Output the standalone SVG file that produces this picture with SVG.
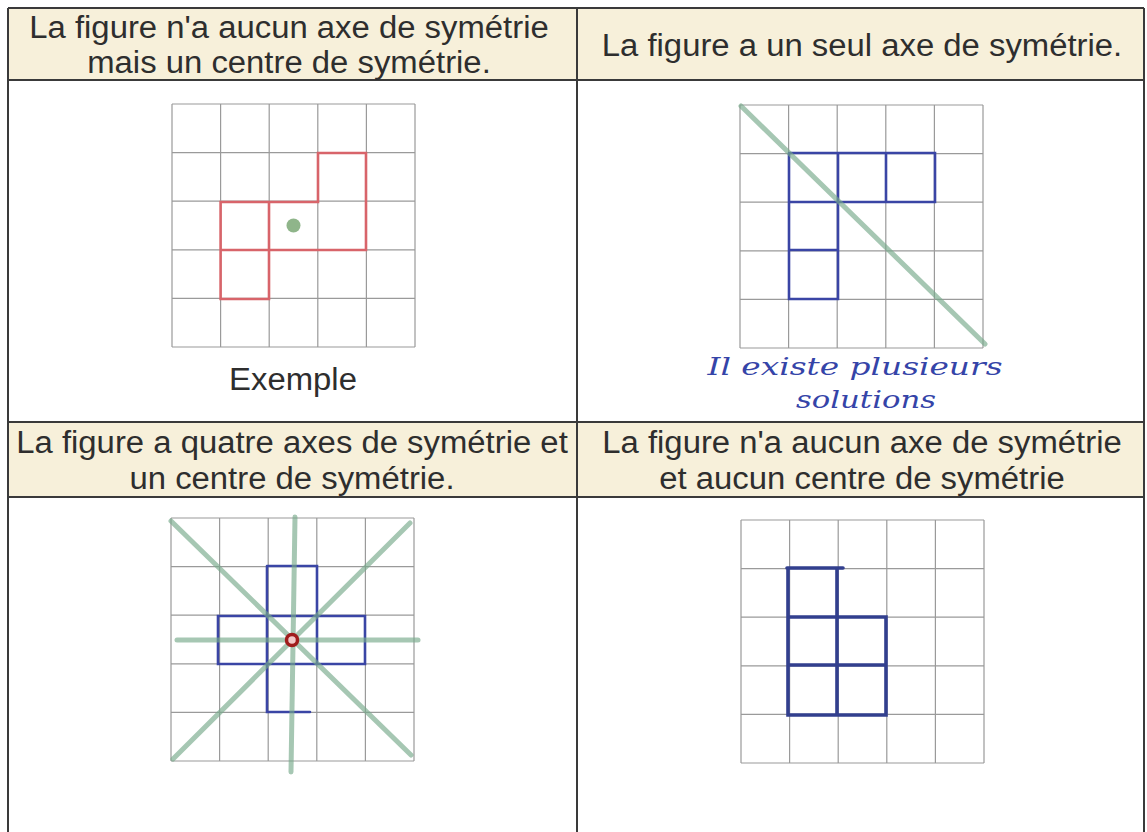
<svg xmlns="http://www.w3.org/2000/svg" width="1147" height="832" viewBox="0 0 1147 832">
<style>
.hdr{fill:#f7f0da}
.tbl{stroke:#3a3a3a;stroke-width:2;fill:none}
.t{font-family:"Liberation Sans",Arial,sans-serif;font-size:31px;fill:#2e2e2e;text-anchor:middle}
.grid{stroke:#9a9a9a;stroke-width:1.2;fill:none}
.red{stroke:#d8646a;stroke-width:2.6;fill:none;stroke-linecap:square}
.blue{stroke:#3a45a5;stroke-width:2.6;fill:none;stroke-linecap:round}
.blue2{stroke:#323f8e;stroke-width:3.6;fill:none;stroke-linecap:round}
.axis{stroke:#76a98a;stroke-opacity:0.65;stroke-width:5;fill:none;stroke-linecap:round}
.hand{font-family:"DejaVu Serif","Liberation Serif",serif;font-style:italic;font-size:25px;fill:#3544a8;text-anchor:middle}
</style>
<defs>
<path id="g5" class="grid" d="M0 0H243M0 48.6H243M0 97.2H243M0 145.8H243M0 194.4H243M0 243H243M0 0V243M48.6 0V243M97.2 0V243M145.8 0V243M194.4 0V243M243 0V243"/>
</defs>
<rect width="1147" height="832" fill="#ffffff"/>
<g id="table">
<rect class="hdr" x="8" y="8" width="1136" height="72"/>
<rect class="hdr" x="8" y="422" width="1136" height="75"/>
<path class="tbl" d="M8 8H1144M8 80H1144M8 422H1144M8 497H1144M8 8V832M577 8V832M1144 8V832"/>
</g>
<g id="cell-tl">
<g transform="translate(289 0) scale(1.06 1)">
<text class="t" x="0" y="38">La figure n'a aucun axe de symétrie</text>
<text class="t" x="0" y="73">mais un centre de symétrie.</text>
</g>
<use href="#g5" x="172" y="104"/>
<path class="red" d="M318 153H366V250H220.6V202H318Z M220.6 202V299H269V202 M269 250H318"/>
<circle cx="293.5" cy="225.5" r="7" fill="#8fb58a"/>
<g transform="translate(293 0) scale(1.06 1)">
<text class="t" x="0" y="390">Exemple</text>
</g>
</g>
<g id="cell-tr">
<g transform="translate(862 0) scale(1.06 1)">
<text class="t" x="0" y="56">La figure a un seul axe de symétrie.</text>
</g>
<use href="#g5" x="740" y="105"/>
<path class="blue" d="M789 153H935V202H789 M789 153V299H838V153 M886 153V202 M789 250H838"/>
<line class="axis" x1="741" y1="106" x2="985" y2="344"/>
<text class="hand" x="855" y="375" textLength="295" lengthAdjust="spacingAndGlyphs">Il existe plusieurs</text>
<text class="hand" x="866" y="408" textLength="140" lengthAdjust="spacingAndGlyphs">solutions</text>
</g>
<g id="cell-bl">
<g transform="translate(292 0) scale(1.06 1)">
<text class="t" x="0" y="453">La figure a quatre axes de symétrie et</text>
<text class="t" x="0" y="489">un centre de symétrie.</text>
</g>
<use href="#g5" x="171" y="518"/>
<path class="blue" d="M267 566H317V664 M267 566V712H310 M218 616H365V664H218Z"/>
<line class="axis" x1="295" y1="517" x2="291" y2="772"/>
<line class="axis" x1="177" y1="640" x2="418" y2="640"/>
<line class="axis" x1="171" y1="521" x2="411" y2="755"/>
<line class="axis" x1="173" y1="759" x2="410" y2="523"/>
<circle cx="292" cy="640" r="5.5" fill="#f2c8c8" stroke="#a01c1c" stroke-width="3.5"/>
</g>
<g id="cell-br">
<g transform="translate(862 0) scale(1.06 1)">
<text class="t" x="0" y="453">La figure n'a aucun axe de symétrie</text>
<text class="t" x="0" y="489">et aucun centre de symétrie</text>
</g>
<use href="#g5" x="741" y="520"/>
<path class="blue2" d="M787 568H843 M788 568V715H886V617H788 M837 568V715 M788 665H886"/>
</g>
</svg>
